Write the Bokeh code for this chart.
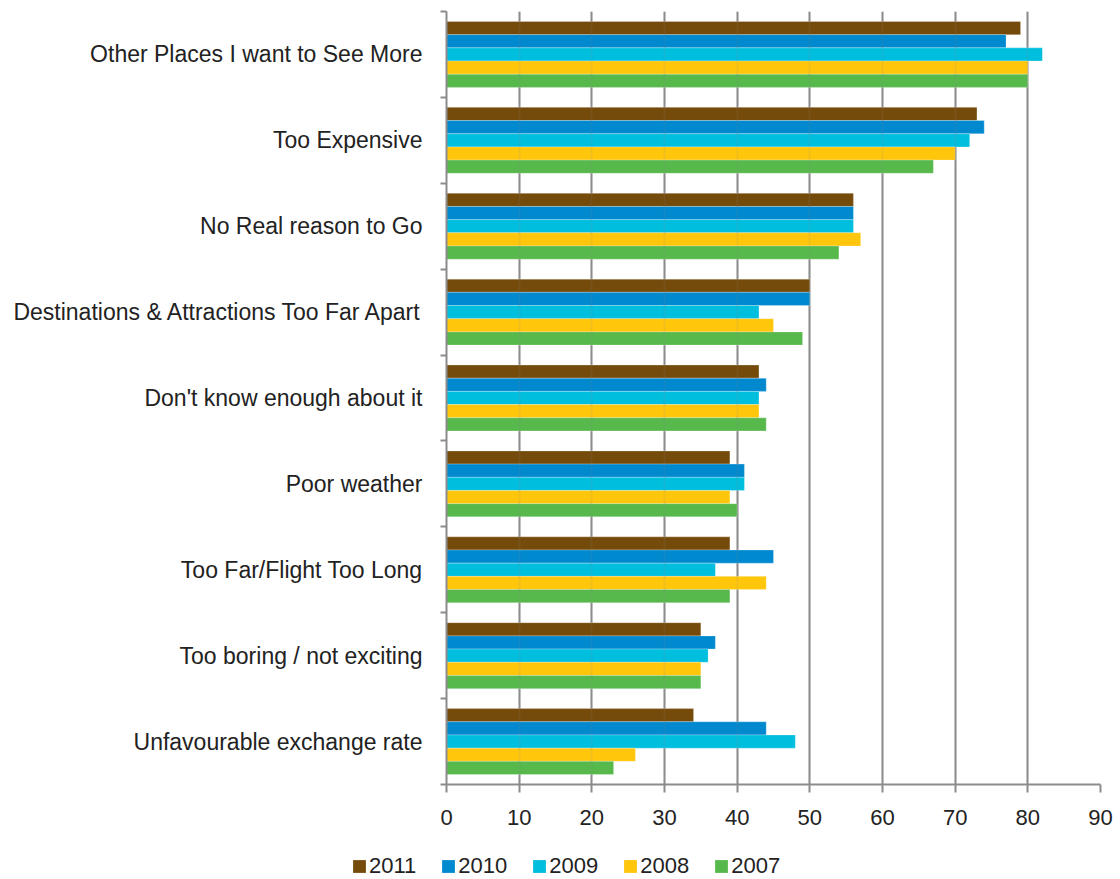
from bokeh.plotting import figure
from bokeh.layouts import column
from bokeh.models import (Range1d, FixedTicker, Legend, LegendItem, ColumnDataSource, Grid)
from bokeh.embed import file_html
from bokeh.resources import INLINE

# Reasons for not visiting, top to bottom
categories = [
    "Other Places I want to See More",
    "Too Expensive",
    "No Real reason to Go",
    "Destinations & Attractions Too Far Apart",
    "Don't know enough about it",
    "Poor weather",
    "Too Far/Flight Too Long",
    "Too boring / not exciting",
    "Unfavourable exchange rate",
]

years = ["2011", "2010", "2009", "2008", "2007"]

v2011 = [79, 73, 56, 50, 43, 39, 39, 35, 34]
v2010 = [77, 74, 56, 50, 44, 41, 45, 37, 44]
v2009 = [82, 72, 56, 43, 43, 41, 37, 36, 48]
v2008 = [80, 70, 57, 45, 43, 39, 44, 35, 26]
v2007 = [80, 67, 54, 49, 44, 40, 39, 35, 23]

series = [v2011, v2010, v2009, v2008, v2007]
colors = ["#754B0B", "#0089CF", "#00BEDE", "#FFC60B", "#57B84C"]

FONT = "Liberation Sans"
GRAY = "#8c8c8c"
TEXT = "#222222"

n = len(categories)
p = figure(
    width=1120, height=850,
    x_range=Range1d(0, 90), y_range=Range1d(n, 0),
    output_backend="svg", toolbar_location=None,
    min_border_left=446, min_border_right=20,
    min_border_top=11, min_border_bottom=66,
)
p.frame_align = False
p.outline_line_color = None
p.background_fill_color = "white"
p.border_fill_color = "white"

bar_h = 0.1535
bar_style = dict(line_color="white", line_alpha=0.25, line_width=1)
for k, (vals, col) in enumerate(zip(series, colors)):
    offset = (k - 2) * bar_h
    src = ColumnDataSource(dict(
        y=[i + 0.5 + offset for i in range(n)],
        right=vals,
    ))
    p.hbar(y="y", left=0, right="right", height=bar_h, source=src,
           fill_color=col, **bar_style)

# x axis
x_ticker = FixedTicker(ticks=list(range(0, 91, 10)))
p.xaxis.ticker = x_ticker
p.xaxis.axis_line_color = GRAY
p.xaxis.axis_line_width = 2
p.xaxis.major_tick_line_color = GRAY
p.xaxis.major_tick_line_width = 2
p.xaxis.major_tick_out = 8
p.xaxis.major_tick_in = 0
p.xaxis.minor_tick_line_color = None
p.xaxis.major_label_text_font = FONT
p.xaxis.major_label_text_font_size = "22px"
p.xaxis.major_label_text_color = TEXT
p.xaxis.major_label_standoff = 17

# y axis: labels at band centres, ticks at band boundaries
p.yaxis.ticker = FixedTicker(ticks=[i + 0.5 for i in range(n)],
                             minor_ticks=list(range(n + 1)))
p.yaxis.major_label_overrides = {i + 0.5: c for i, c in enumerate(categories)}
p.yaxis.axis_line_color = GRAY
p.yaxis.axis_line_width = 2
p.yaxis.major_tick_line_color = None
p.yaxis.major_tick_out = 0
p.yaxis.major_tick_in = 0
p.yaxis.minor_tick_line_color = GRAY
p.yaxis.minor_tick_line_width = 2
p.yaxis.minor_tick_out = 6
p.yaxis.minor_tick_in = 0
p.yaxis.major_label_text_font = FONT
p.yaxis.major_label_text_font_size = "23px"
p.yaxis.major_label_text_color = TEXT
p.yaxis.major_label_standoff = 18

p.xgrid.grid_line_color = GRAY
p.xgrid.grid_line_width = 2
p.ygrid.grid_line_color = None
# faint copy of the vertical grid showing through the bars
p.add_layout(Grid(dimension=0, ticker=x_ticker, level="overlay",
                  grid_line_color=GRAY, grid_line_width=2, grid_line_alpha=0.12))

# Legend strip underneath the chart
leg = figure(
    width=1120, height=29,
    x_range=Range1d(0, 1), y_range=Range1d(0, 1),
    x_axis_type=None, y_axis_type=None,
    output_backend="svg", toolbar_location=None,
    min_border=0,
)
leg.frame_align = False
leg.outline_line_color = None
leg.xgrid.grid_line_color = None
leg.ygrid.grid_line_color = None
swatches = []
for col in colors:
    # swatch glyphs sit outside the visible range; only their legend entries show
    swatches.append(leg.hbar(y=[5], left=[5], right=[6], height=1,
                             fill_color=col, line_color=None))

legend = Legend(
    items=[LegendItem(label=y, renderers=[r]) for y, r in zip(years, swatches)],
    orientation="horizontal",
    location=(351, 0),
    glyph_width=16, glyph_height=16,
    label_text_font=FONT, label_text_font_size="22px",
    label_text_color=TEXT,
    label_standoff=2, spacing=24,
    padding=0, margin=0,
    border_line_color=None, background_fill_alpha=0,
)
leg.add_layout(legend, "center")

layout = column(p, leg, spacing=0)
open("out.html", "w").write(file_html(layout, INLINE))
